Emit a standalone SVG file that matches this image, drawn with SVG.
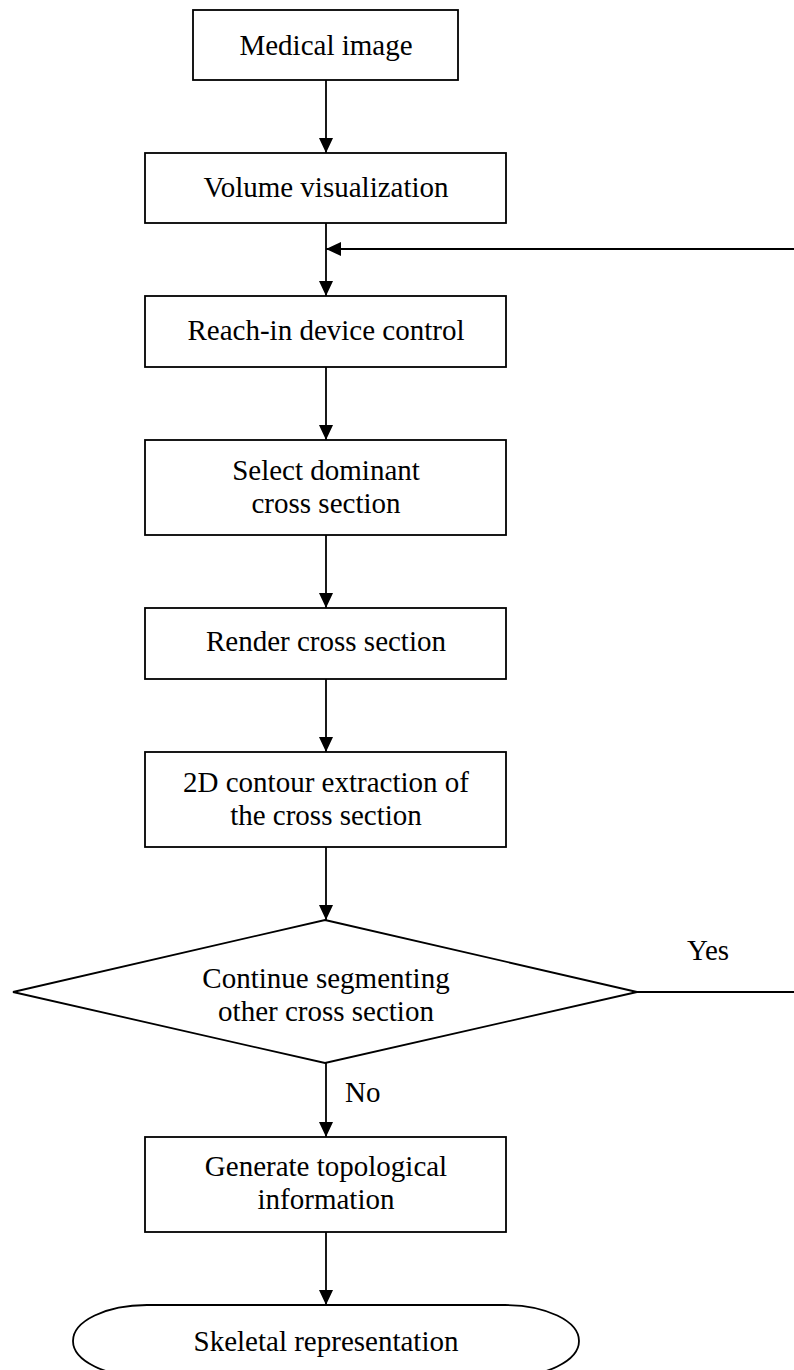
<svg xmlns="http://www.w3.org/2000/svg" width="794" height="1370" viewBox="0 0 794 1370">
<style>
.box{fill:#fff;stroke:#000;stroke-width:1.8}
.t{font-family:"Liberation Serif","Times New Roman",serif;font-size:29px;fill:#000;text-anchor:middle}
.c{fill:none;stroke:#000;stroke-width:1.8}
</style>
<defs>
<marker id="ah" markerUnits="userSpaceOnUse" markerWidth="16" markerHeight="15" refX="15" refY="7" orient="auto">
<path d="M0,0 L15,7 L0,14 z" fill="#000"/>
</marker>
</defs>
<rect width="794" height="1370" fill="#fff"/>
<g id="connectors">
<line class="c" x1="326" y1="80" x2="326" y2="153" marker-end="url(#ah)"/>
<line class="c" x1="326" y1="223" x2="326" y2="296" marker-end="url(#ah)"/>
<line class="c" x1="794" y1="249" x2="326" y2="249" marker-end="url(#ah)"/>
<line class="c" x1="326" y1="367" x2="326" y2="440" marker-end="url(#ah)"/>
<line class="c" x1="326" y1="535" x2="326" y2="608" marker-end="url(#ah)"/>
<line class="c" x1="326" y1="679" x2="326" y2="752" marker-end="url(#ah)"/>
<line class="c" x1="326" y1="847" x2="326" y2="920" marker-end="url(#ah)"/>
<line class="c" x1="637" y1="992" x2="794" y2="992"/>
<text class="t" x="708" y="960">Yes</text>
<line class="c" x1="326" y1="1063" x2="326" y2="1137" marker-end="url(#ah)"/>
<text class="t" x="345" y="1102" style="text-anchor:start">No</text>
<line class="c" x1="326" y1="1232" x2="326" y2="1305" marker-end="url(#ah)"/>
</g>
<g id="n1">
<rect class="box" x="193" y="10" width="265" height="70"/>
<text class="t" x="326" y="55">Medical image</text>
</g>
<g id="n2">
<rect class="box" x="145" y="153" width="361" height="70"/>
<text class="t" x="326" y="197">Volume visualization</text>
</g>
<g id="n3">
<rect class="box" x="145" y="296" width="361" height="71"/>
<text class="t" x="326" y="340">Reach-in device control</text>
</g>
<g id="n4">
<rect class="box" x="145" y="440" width="361" height="95"/>
<text class="t" x="326" y="480">Select dominant</text>
<text class="t" x="326" y="513">cross section</text>
</g>
<g id="n5">
<rect class="box" x="145" y="608" width="361" height="71"/>
<text class="t" x="326" y="651">Render cross section</text>
</g>
<g id="n6">
<rect class="box" x="145" y="752" width="361" height="95"/>
<text class="t" x="326" y="792">2D contour extraction of</text>
<text class="t" x="326" y="825">the cross section</text>
</g>
<g id="n7">
<polygon class="box" points="325,920 637,992 325,1063 13,992"/>
<text class="t" x="326" y="988">Continue segmenting</text>
<text class="t" x="326" y="1021">other cross section</text>
</g>
<g id="n8">
<rect class="box" x="145" y="1137" width="361" height="95"/>
<text class="t" x="326" y="1176">Generate topological</text>
<text class="t" x="326" y="1209">information</text>
</g>
<g id="n9">
<path class="box" d="M147,1305 H505 A74,36 0 0 1 505,1377 H147 A74,36 0 0 1 147,1305 Z"/>
<text class="t" x="326" y="1351">Skeletal representation</text>
</g>
</svg>
